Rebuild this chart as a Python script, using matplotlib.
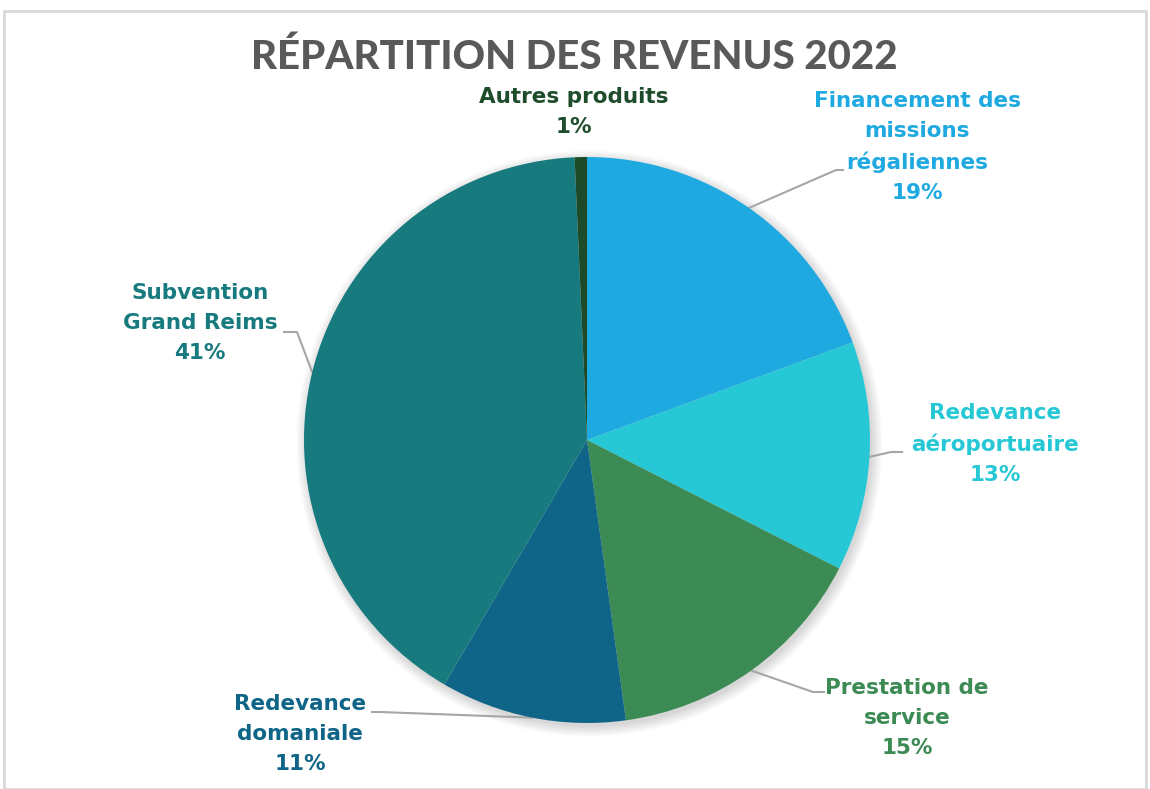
import numpy as np
import matplotlib
matplotlib.use("Agg")
import matplotlib.pyplot as plt
from matplotlib.patches import Rectangle, Circle

# données
categories = ["Financement des\nmissions\nrégaliennes", "Redevance\naéroportuaire",
              "Prestation de\nservice", "Redevance\ndomaniale",
              "Subvention\nGrand Reims", "Autres produits"]
values = [19.4, 13.1, 15.3, 10.6, 40.9, 0.7]
colors = ["#1FA9E1", "#27C8D6", "#3C8A54", "#0F6587", "#167A7F", "#1D4B2A"]
text_colors = ["#1FA9E1", "#27C8D6", "#3C8A54", "#0F6587", "#167A7F", "#1E4D2B"]

W, H = 1150, 789
cx, cy, R = 587, 440, 283

def px(x, y):
    # pixels -> coordonnées du camembert
    return (x - cx) / R, (cy - y) / R

# positions des étiquettes (centre du bloc de texte) et coudes des lignes de rappel
label_px = [(917, 147), (995, 444), (907, 718), (300, 734), (200, 323), (574, 112)]
elbow_px = [[(836, 170), (843, 170)],
            [(891, 452), (902, 452)],
            [(813, 692), (824, 692)],
            [(380, 712), (372, 712)],
            [(297, 332), (284, 332)],
            None]

fig = plt.figure(figsize=(W / 100, H / 100), dpi=100)
fig.patches.append(Rectangle((4 / W, 0), (W - 8) / W, 1 - 11 / H, transform=fig.transFigure,
                             fill=False, edgecolor="#D9D9D9", linewidth=2))

ax = fig.add_axes([(cx - R) / W, (H - cy - R) / H, 2 * R / W, 2 * R / H])

# ombre douce sous le camembert
for k in range(8):
    ax.add_patch(Circle((0.008, -0.012), 1 + 0.005 * k, color="black", alpha=0.02,
                        linewidth=0, zorder=0, clip_on=False))

wedges, _ = ax.pie(values, colors=colors, startangle=90, counterclock=False,
                   radius=1, wedgeprops=dict(linewidth=0, zorder=2))
ax.set_xlim(-1, 1)
ax.set_ylim(-1, 1)
ax.axis("off")

for i, w in enumerate(wedges):
    lx, ly = px(*label_px[i])
    ax.text(lx, ly, f"{categories[i]}\n{round(values[i])}%", ha="center", va="center",
            color=text_colors[i], fontsize=15.5, fontweight="bold", family="DejaVu Sans",
            linespacing=1.6, clip_on=False)
    if elbow_px[i] is not None:
        mid = np.deg2rad((w.theta1 + w.theta2) / 2)
        xs = [np.cos(mid)] + [px(*p)[0] for p in elbow_px[i]]
        ys = [np.sin(mid)] + [px(*p)[1] for p in elbow_px[i]]
        ax.plot(xs, ys, color="#A6A6A6", linewidth=1.5, clip_on=False, zorder=1)

fig.text(574 / W, 1 - 57 / H, "RÉPARTITION DES REVENUS 2022", ha="center", va="center",
         fontsize=29, fontweight="black", color="#595959", family="Lato")

fig.savefig("out.png", dpi=100)
